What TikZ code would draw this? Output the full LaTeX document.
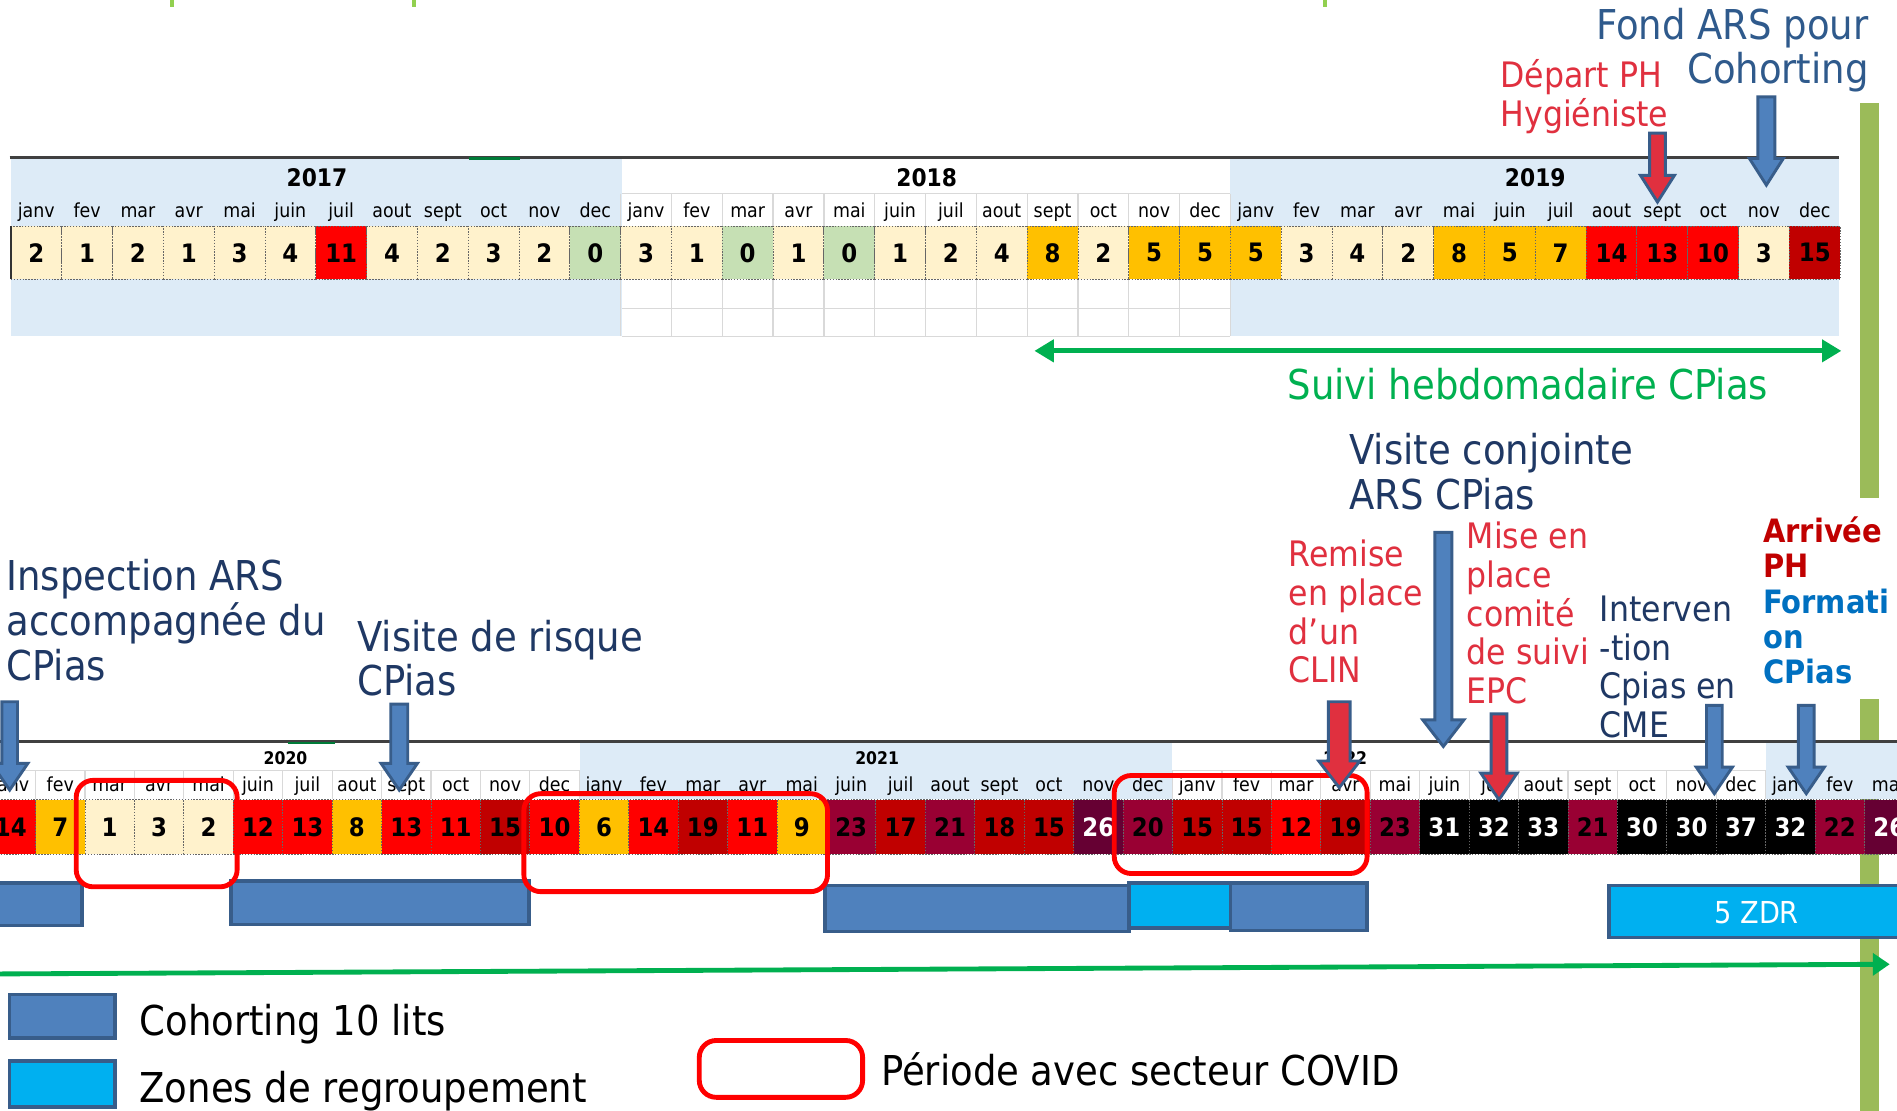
\documentclass[tikz,border=0pt]{standalone}
\usepackage{fontspec}
\setmainfont{DejaVu Sans Condensed}
\usetikzlibrary{arrows.meta}
\definecolor{cP}{HTML}{FFF2CC}
\definecolor{cG}{HTML}{C6E0B4}
\definecolor{cO}{HTML}{FFC000}
\definecolor{cR}{HTML}{FF0000}
\definecolor{cD}{HTML}{C00000}
\definecolor{cM}{HTML}{990033}
\definecolor{cN}{HTML}{660033}
\definecolor{cK}{HTML}{000000}
\definecolor{band}{HTML}{DDEBF7}
\definecolor{gridc}{HTML}{D9D9D9}
\definecolor{navy}{HTML}{1F3864}
\definecolor{steel}{HTML}{2F5A8C}
\definecolor{lred}{HTML}{E0303F}
\definecolor{abl}{HTML}{4F81BD}
\definecolor{aedge}{HTML}{385D8A}
\definecolor{cyanz}{HTML}{00B0F0}
\definecolor{gline}{HTML}{00B050}
\definecolor{gbar}{HTML}{9BBB59}
\definecolor{gtick}{HTML}{92D050}
\definecolor{fblue}{HTML}{0070C0}
\definecolor{rdlbl}{HTML}{C00000}
% block arrow: x, top, tip, fill, shaft half width, head half width
\newcommand\blockarrow[6]{%
  \filldraw[draw=aedge, line width=1.2pt, fill=#4]
    ({#1-#5},#2) -- ({#1+#5},#2) -- ({#1+#5},{#3-22}) -- ({#1+#6},{#3-22})
    -- (#1,#3) -- ({#1-#6},{#3-22}) -- ({#1-#5},{#3-22}) -- cycle;}
\tikzset{
  cellbox/.style={minimum width=21pt, minimum height=22pt, inner sep=0pt,
    draw=black!60, dash pattern=on 0.6pt off 0.6pt, line width=0.35pt,
    font=\fontsize{10.5}{12}\selectfont\bfseries},
  bcellbox/.style={cellbox, minimum width=20.43pt, minimum height=22.5pt},
  monlbl/.style={inner sep=0pt, anchor=base, font=\fontsize{8}{9}\selectfont},
  yrlbl/.style={inner sep=0pt, anchor=base, font=\fontsize{10}{12}\selectfont\bfseries},
  byrlbl/.style={inner sep=0pt, anchor=base, font=\fontsize{7.2}{9}\selectfont\bfseries},
  biglbl/.style={inner sep=0pt, anchor=north west, align=left, text=navy,
    font=\fontsize{17}{18.5}\selectfont},
  redlbl/.style={inner sep=0pt, anchor=north west, align=left, text=lred,
    font=\fontsize{14.5}{16}\selectfont},
  midlbl/.style={redlbl, text=navy},
  boldlbl/.style={inner sep=0pt, anchor=north west, align=left,
    font=\fontsize{13.3}{14.5}\selectfont\bfseries},
  leglbl/.style={inner sep=0pt, anchor=base west, font=\fontsize{17}{18.5}\selectfont},
  cohort/.style={draw=aedge, fill=abl, line width=1.5pt},
  zdr/.style={draw=aedge, fill=cyanz, line width=1.5pt},
  covid/.style={draw=cR, line width=2pt, rounded corners=7pt},
  gridln/.style={draw=gridc, line width=0.5pt},
  topline/.style={draw=black!75, line width=1pt},
}
\begin{document}
\begin{tikzpicture}[x=0.5pt,y=-0.5pt]
\useasboundingbox (0,0) rectangle (1568,918);
\clip (0,0) rectangle (1568,918);
\fill[white] (0,0) rectangle (1568,918);

% small green ticks at top
\foreach \x in {142,342,1095} \draw[gtick, line width=1.5pt] (\x,0) -- (\x,6);

% right green bar
\fill[gbar] (1537,85) rectangle (1553,412);
\fill[gbar] (1537,578) rectangle (1553,918);

% ================= TOP TABLE =================
\fill[band] (9,131) rectangle (514,278);
\fill[band] (1017,131) rectangle (1520,278);
\draw[gridln] (514,160) -- (1017,160) (514,255) -- (1017,255) (514,278) -- (1017,278);
\foreach \i in {12,...,24}
  \draw[gridln] ({9+42*\i},160) -- ({9+42*\i},187) ({9+42*\i},231) -- ({9+42*\i},278);
\draw[topline] (8,130) -- (1520,130);
\draw[gline!70!black, line width=1pt] (388,131) -- (430,131);

\node[yrlbl] (y2017) at (262,154) {2017};
\node[yrlbl] (y2018) at (766,154) {2018};
\node[yrlbl] (y2019) at (1269,154) {2019};

\foreach \yr in {0,1,2}{
  \foreach \m [count=\j from 0] in {janv,fev,mar,avr,mai,juin,juil,aout,sept,oct,nov,dec}{
    \node[monlbl] (tm\yr-\j) at ({30+42*(12*\yr+\j)},180) {\m};
  }
}

\foreach \vv/\fc/\tc [count=\i from 0] in {
  2/cP/black,1/cP/black,2/cP/black,1/cP/black,3/cP/black,4/cP/black,11/cR/black,4/cP/black,2/cP/black,3/cP/black,2/cP/black,0/cG/black,
  3/cP/black,1/cP/black,0/cG/black,1/cP/black,0/cG/black,1/cP/black,2/cP/black,4/cP/black,8/cO/black,2/cP/black,5/cO/black,5/cO/black,
  5/cO/black,3/cP/black,4/cP/black,2/cP/black,8/cO/black,5/cO/black,7/cO/black,14/cR/black,13/cR/black,10/cR/black,3/cP/black,15/cD/black}
  \node[cellbox, fill=\fc, text=\tc] (t\i) at ({30+42*\i},209) {\vv};
\draw[black!80, line width=0.8pt] (9,187) -- (9,231);

% Suivi hebdomadaire
\coordinate (s1) at (855,290);
\coordinate (s2) at (1522,290);
\draw[gline, line width=2pt, {Triangle[length=8pt,width=9pt]}-{Triangle[length=8pt,width=9pt]}] (s1) -- (s2);
\node[inner sep=0pt, anchor=base, text=gline, font=\fontsize{17}{18.5}\selectfont] (suivi) at (1263,330) {Suivi hebdomadaire CPias};

% ================= BOTTOM TABLE =================
\fill[band] (479.6,614) rectangle (969,660);
\fill[band] (1459.5,614) rectangle (1568,660);
\draw[gridln] (0,637) -- (479.6,637) (969,637) -- (1459.5,637);
\foreach \k in {0,...,12,24,25,...,36}
  \draw[gridln] ({-11.5+40.86*\k},637) -- ({-11.5+40.86*\k},660);
\draw[topline] (0,613) -- (1568,613);
\draw[gline!70!black, line width=1pt] (238,614) -- (277,614);

\node[byrlbl] (y2020) at (236,631.5) {2020};
\node[byrlbl] (y2021) at (725,631.5) {2021};
\node[byrlbl] (y2022) at (1112,631.5) {2022};

\foreach \m/\vv/\fc/\tc [count=\k from 0] in {
  janv/14/cR/black, fev/7/cO/black, mar/1/cP/black, avr/3/cP/black, mai/2/cP/black,
  juin/12/cR/black, juil/13/cR/black, aout/8/cO/black, sept/13/cR/black, oct/11/cR/black,
  nov/15/cD/black, dec/10/cR/black,
  janv/6/cO/black, fev/14/cR/black, mar/19/cD/black, avr/11/cR/black, mai/9/cO/black,
  juin/23/cM/black, juil/17/cD/black, aout/21/cM/black, sept/18/cD/black, oct/15/cD/black,
  nov/26/cN/white, dec/20/cM/black,
  janv/15/cD/black, fev/15/cD/black, mar/12/cR/black, avr/19/cD/black, mai/23/cM/black,
  juin/31/cK/white, juil/32/cK/white, aout/33/cK/white, sept/21/cM/black, oct/30/cK/white,
  nov/30/cK/white, dec/37/cK/white,
  janv/32/cK/white, fev/22/cM/black, mar/26/cN/white}{
  \node[monlbl] (bm\k) at ({8.93+40.86*\k},654.5) {\m};
  \node[bcellbox, fill=\fc, text=\tc] (b\k) at ({8.93+40.86*\k},683.5) {\vv};
}

% cohorting bars and ZDR
\filldraw[cohort] (-5,730) rectangle (68,765);
\filldraw[cohort] (191,728) rectangle (437,764);
\filldraw[cohort] (682,732) rectangle (933,770);
\filldraw[zdr] (933,730) rectangle (1017,767);
\filldraw[cohort] (1017,730) rectangle (1130,769);
\filldraw[zdr] (1330,732) rectangle (1580,775);
\node[text=white, inner sep=0pt, font=\fontsize{12.5}{14}\selectfont] (zdr5) at (1452,754) {5 ZDR};

% COVID periods
\draw[covid] (63,645) rectangle (196,733);
\draw[covid] (433,656) rectangle (684,737);
\draw[covid] (921,641) rectangle (1130,722);

% long green arrow
\coordinate (g1) at (0,805);
\coordinate (g2) at (1562,797);
\draw[gline, line width=2pt, -{Triangle[length=7pt,width=9pt]}] (g1) -- (g2);

% ================= LABELS =================
\node[biglbl, text=steel, anchor=north east, align=right, font=\fontsize{17}{18.5}\selectfont] (fond) at (1545,6) {Fond ARS pour\\Cohorting};
\node[redlbl] (depart) at (1240,49) {Départ PH\\Hygiéniste};
\node[biglbl] (insp) at (5,462) {Inspection ARS\\accompagnée du\\CPias};
\node[biglbl] (vrisk) at (295,512) {Visite de risque\\CPias};
\node[biglbl] (vconj) at (1115,358) {Visite conjointe\\ARS CPias};
\node[redlbl] (clin) at (1065,446) {Remise\\en place\\d’un\\CLIN};
\node[redlbl] (epc) at (1212,431) {Mise en\\place\\comité\\de suivi\\EPC};
\node[midlbl] (cme) at (1322,492) {Interven\\-tion\\Cpias en\\CME};
\node[boldlbl] (arr) at (1457,427) {{\color{rdlbl}Arrivée}\\{\color{rdlbl}PH}\\{\color{fblue}Formati}\\{\color{fblue}on}\\{\color{fblue}CPias}};

% ================= BLOCK ARROWS =================
\blockarrow{1370}{110}{167}{lred}{6.5}{14}
\blockarrow{1460}{80}{153}{abl}{7}{14}
\blockarrow{8}{580}{653}{abl}{6.5}{15}
\blockarrow{330}{582}{653}{abl}{7}{15}
\blockarrow{1193}{440}{617}{abl}{7}{17}
\blockarrow{1107}{580}{651}{lred}{9}{17}
\blockarrow{1239}{590}{661}{lred}{6.5}{15}
\blockarrow{1417}{583}{656}{abl}{6.5}{15}
\blockarrow{1493}{583}{656}{abl}{6.5}{15}

% ================= LEGEND =================
\filldraw[cohort] (8,822) rectangle (95,858);
\filldraw[zdr] (8,877) rectangle (95,915);
\draw[covid] (578,860) rectangle (713,907);
\node[leglbl] (leg1) at (115,856) {Cohorting 10 lits};
\node[leglbl] (leg2) at (115,911) {Zones de regroupement};
\node[leglbl] (leg3) at (728,897) {Période avec secteur COVID};
\end{tikzpicture}
\end{document}
